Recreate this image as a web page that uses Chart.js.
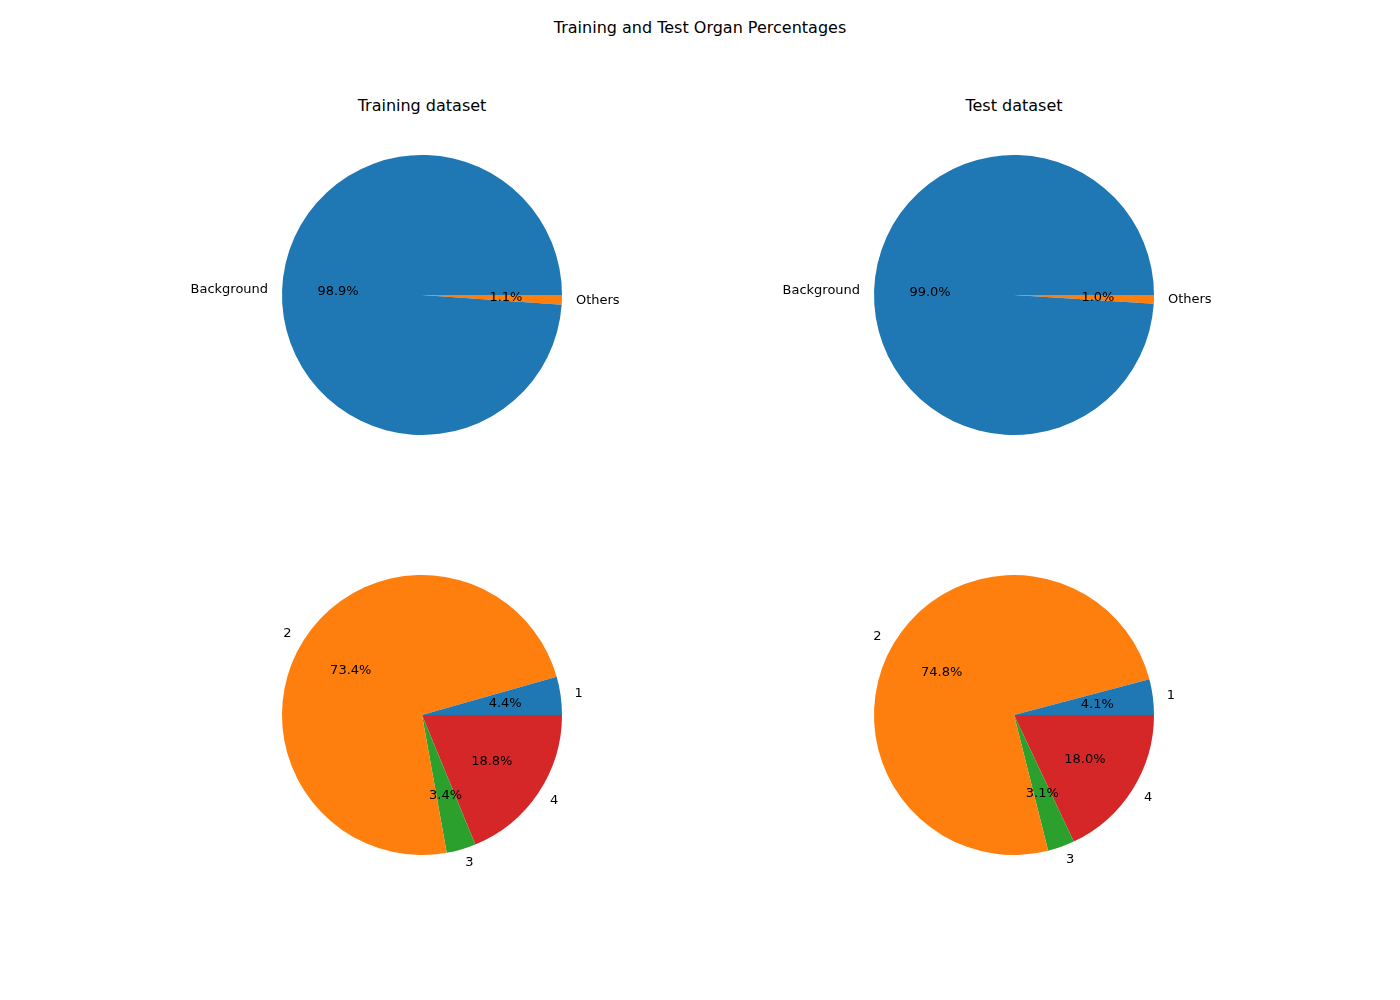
<!DOCTYPE html>
<html>
<head>
<meta charset="utf-8">
<script src="https://cdn.jsdelivr.net/npm/chart.js@4"></script>
<style>
  body { margin: 0; background: #fff; font-family: "DejaVu Sans", sans-serif; }
  #fig { position: relative; width: 1400px; height: 1000px; }
  .t { position: absolute; transform: translateX(-50%); font-size: 16px; color: #000; white-space: nowrap; }
  canvas { position: absolute; }
</style>
</head>
<body>
<div id="fig">
  <div class="t" style="left:700px; top:18px;">Training and Test Organ Percentages</div>
  <div class="t" style="left:422px; top:96px;">Training dataset</div>
  <div class="t" style="left:1014px; top:96px;">Test dataset</div>
</div>
<script>
const topLabels = ['Background', 'Others'];
const trainTop = [98.9, 1.1];
const testTop = [99.0, 1.0];
const organLabels = ['1', '2', '3', '4'];
const trainOrgans = [4.4, 73.5, 3.4, 18.8];
const testOrgans = [4.1, 74.9, 3.1, 18.0];
const colors = ['#1f77b4', '#ff7f0e', '#2ca02c', '#d62728'];

// matplotlib draws counter-clockwise from 3 o'clock; Chart.js goes clockwise,
// so feed the slices in reverse order starting at 90 degrees
const pieLabels = {
    id: 'pieLabels',
    afterDatasetsDraw(chart) {
        const ctx = chart.ctx;
        const ds = chart.data.datasets[0];
        const total = ds.data.reduce((a, b) => a + b, 0);
        ctx.save();
        ctx.font = '13px "DejaVu Sans"';
        ctx.fillStyle = '#000';
        chart.getDatasetMeta(0).data.forEach((arc, i) => {
            const mid = (arc.startAngle + arc.endAngle) / 2;
            const r = arc.outerRadius;
            const cos = Math.cos(mid), sin = Math.sin(mid);
            ctx.textBaseline = 'middle';
            ctx.textAlign = 'center';
            ctx.fillText((ds.data[i] / total * 100).toFixed(1) + '%', arc.x + 0.6 * r * cos, arc.y + 0.6 * r * sin);
            ctx.textAlign = cos > 0 ? 'left' : 'right';
            ctx.fillText(chart.data.labels[i], arc.x + 1.1 * r * cos, arc.y + 1.1 * r * sin);
        });
        ctx.restore();
    }
};

function makePie(cx, cy, labels, values) {
    const canvas = document.createElement('canvas');
    canvas.width = 600; canvas.height = 440;
    canvas.style.left = (cx - 300) + 'px';
    canvas.style.top = (cy - 220) + 'px';
    document.getElementById('fig').appendChild(canvas);
    new Chart(canvas, {
        type: 'pie',
        data: {
            labels: labels.slice().reverse(),
            datasets: [{
                data: values.slice().reverse(),
                backgroundColor: colors.slice(0, values.length).reverse(),
                borderWidth: 0,
                radius: 140
            }]
        },
        options: {
            responsive: false,
            animation: false,
            rotation: 90,
            plugins: { legend: { display: false }, tooltip: { enabled: false } }
        },
        plugins: [pieLabels]
    });
}

makePie(422, 295, topLabels, trainTop);
makePie(1014, 295, topLabels, testTop);
makePie(422, 715, organLabels, trainOrgans);
makePie(1014, 715, organLabels, testOrgans);
</script>
</body>
</html>
